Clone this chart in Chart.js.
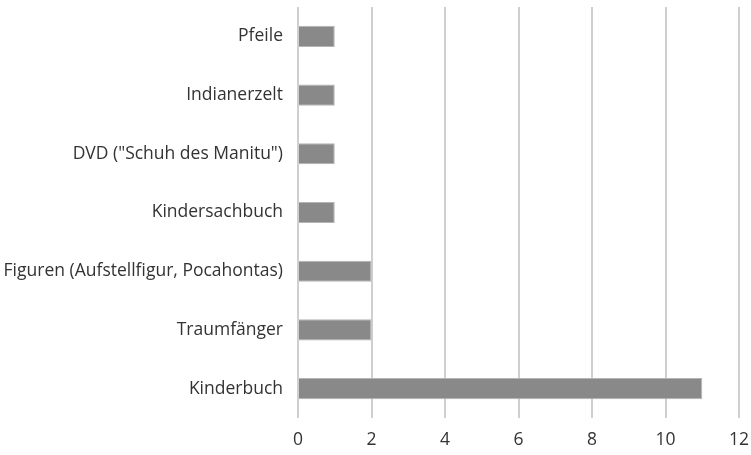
<!DOCTYPE html>
<html>
<head>
<meta charset="utf-8">
<script src="https://cdn.jsdelivr.net/npm/chart.js@4/dist/chart.umd.min.js"></script>
<style>
  html, body { margin: 0; padding: 0; background: #fff; }
  #wrap { width: 751px; height: 455px; }
</style>
</head>
<body>
<div id="wrap"><canvas id="myChart"></canvas></div>
<script>
var labels = ['Pfeile', 'Indianerzelt', 'DVD ("Schuh des Manitu")', 'Kindersachbuch',
              'Figuren (Aufstellfigur, Pocahontas)', 'Traumfänger', 'Kinderbuch'];
var anzahl = [1, 1, 1, 1, 2, 2, 11];
var xTicks = [0, 2, 4, 6, 8, 10, 12];

function renderChart(data, labels) {
    var ctx = document.getElementById('myChart').getContext('2d');
    var myChart = new Chart(ctx, {
        type: 'bar',
        data: {
            labels: labels,
            datasets: [{
                label: 'Anzahl',
                data: data,
                backgroundColor: '#898989',
                borderColor: '#b4b4b4',
                borderWidth: 1,
                barPercentage: 0.36,
                categoryPercentage: 1
            }]
        },
        options: {
            indexAxis: 'y',
            responsive: true,
            maintainAspectRatio: false,
            animation: false,
            layout: { padding: 0 },
            plugins: { legend: { display: false }, tooltip: { enabled: false } },
            scales: {
                x: {
                    min: 0,
                    max: 12,
                    afterBuildTicks: function (scale) {
                        scale.ticks = xTicks.map(function (v) { return { value: v }; });
                    },
                    afterFit: function (scale) {
                        scale.height = 37;
                        scale.paddingLeft = 0;
                        scale.paddingRight = 12;
                    },
                    grid: { color: '#cfcfcf', lineWidth: 2, drawTicks: false },
                    border: { display: false },
                    ticks: { color: '#333', padding: 12, font: { family: 'Open Sans', size: 17.5 } }
                },
                y: {
                    afterFit: function (scale) {
                        scale.width = 298;
                        scale.paddingTop = 7;
                        scale.paddingBottom = 0;
                    },
                    grid: { display: false },
                    border: { display: false },
                    ticks: { color: '#333', padding: 7, font: { family: 'Open Sans', size: 17.5 } }
                }
            }
        }
    });
}

renderChart(anzahl, labels);
</script>
</body>
</html>
